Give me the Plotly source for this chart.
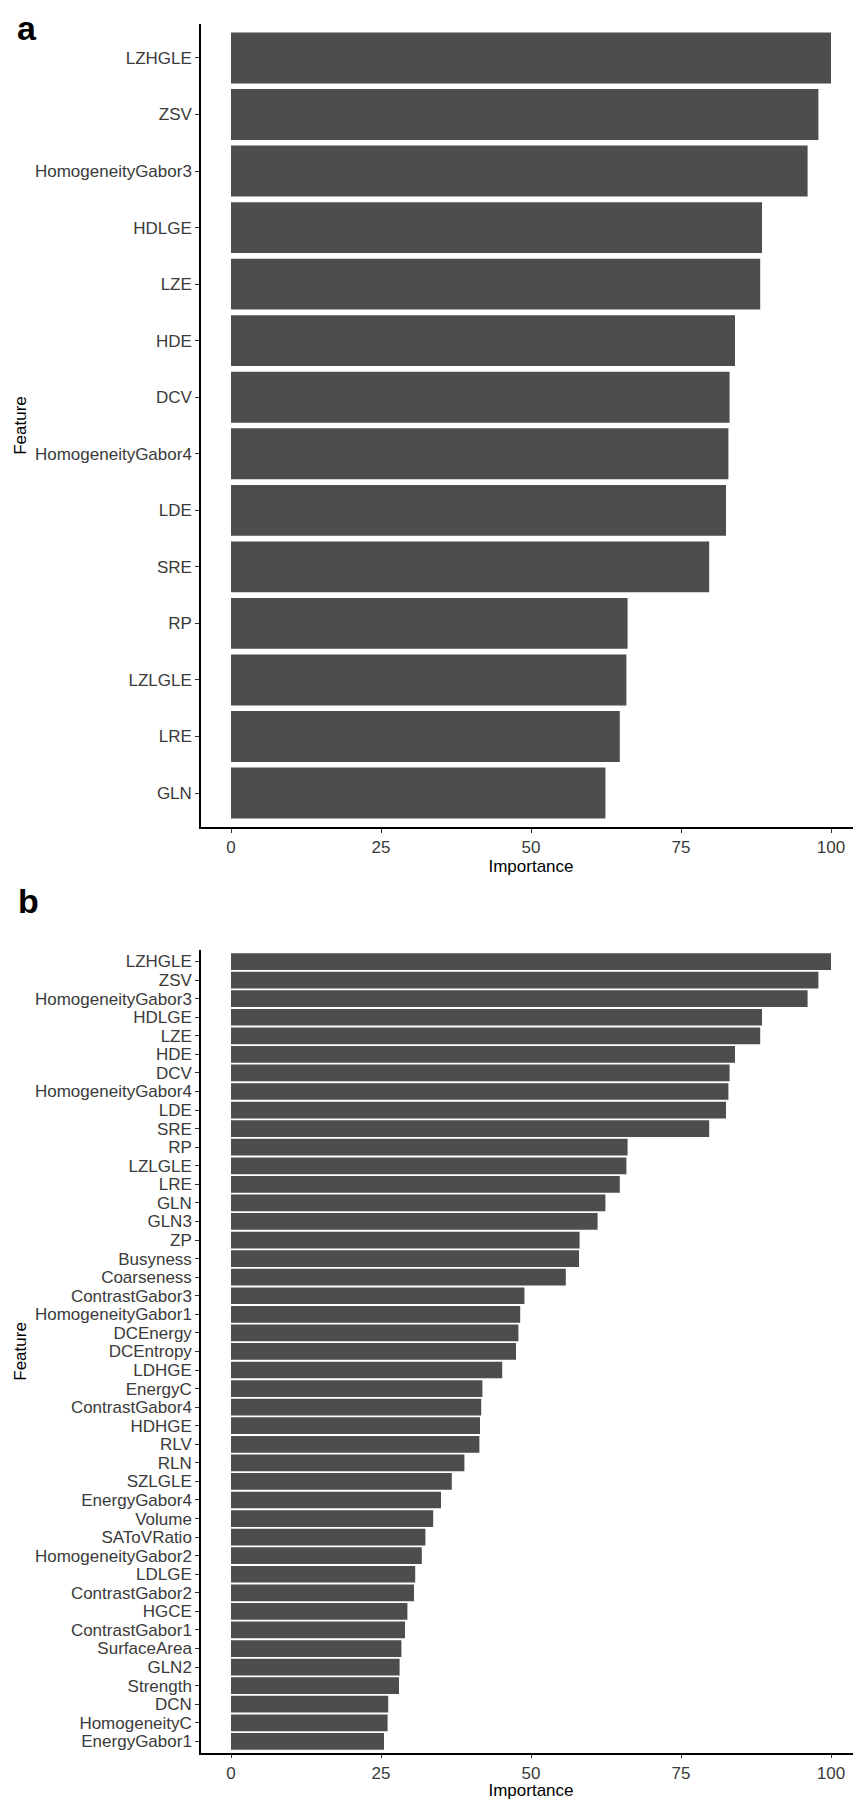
import plotly.graph_objects as go

# ---- data ----
features = [
    "LZHGLE", "ZSV", "HomogeneityGabor3", "HDLGE", "LZE", "HDE", "DCV",
    "HomogeneityGabor4", "LDE", "SRE", "RP", "LZLGLE", "LRE", "GLN",
    "GLN3", "ZP", "Busyness", "Coarseness", "ContrastGabor3",
    "HomogeneityGabor1", "DCEnergy", "DCEntropy", "LDHGE", "EnergyC",
    "ContrastGabor4", "HDHGE", "RLV", "RLN", "SZLGLE", "EnergyGabor4",
    "Volume", "SAToVRatio", "HomogeneityGabor2", "LDLGE", "ContrastGabor2",
    "HGCE", "ContrastGabor1", "SurfaceArea", "GLN2", "Strength", "DCN",
    "HomogeneityC", "EnergyGabor1",
]
importance = [
    100.0, 97.9, 96.1, 88.5, 88.2, 84.0, 83.1,
    82.9, 82.5, 79.7, 66.1, 65.9, 64.8, 62.4,
    61.1, 58.1, 58.0, 55.8, 48.9,
    48.2, 47.9, 47.5, 45.2, 41.9,
    41.7, 41.5, 41.4, 38.9, 36.8, 35.0,
    33.7, 32.4, 31.8, 30.7, 30.5,
    29.4, 29.0, 28.4, 28.1, 28.0, 26.2,
    26.1, 25.5,
]
top_n = 14
features_a = features[:top_n]
importance_a = importance[:top_n]
features_b = features
importance_b = importance

x_ticks = [0, 25, 50, 75, 100]
panel_labels = ["a", "b"]

# ---- style ----
# the page body has an 8px default margin, so the figure is 8px smaller
W, H = 853, 1792
FONT = "Liberation Sans, Arial, Helvetica, sans-serif"
BAR = "#4D4D4D"
TXT = "#3a3a3a"

fig = go.Figure()
fig.add_trace(go.Bar(x=importance_a, y=features_a, orientation="h",
                     marker=dict(color=BAR, line=dict(width=0)),
                     xaxis="x", yaxis="y", showlegend=False))
fig.add_trace(go.Bar(x=importance_b, y=features_b, orientation="h",
                     marker=dict(color=BAR, line=dict(width=0)),
                     xaxis="x2", yaxis="y2", showlegend=False))

xdom = [193 / W, 1.0]
ydom_a = [1 - 819 / H, 1 - 16 / H]
ydom_b = [1 - 1744.5 / H, 1 - 942.4 / H]


def xaxis(anchor):
    return dict(domain=xdom, range=[-5, 105], tickvals=x_ticks,
                showline=True, linecolor="black", linewidth=1.5,
                ticks="outside", ticklen=4, tickwidth=1, tickcolor="#333333",
                tickfont=dict(family=FONT, size=17, color=TXT),
                showgrid=False, zeroline=False, anchor=anchor,
                title=dict(text="Importance", font=dict(family=FONT, size=17, color="black"),
                           standoff=2))


def yaxis(anchor, dom, cats):
    n = len(cats)
    return dict(domain=dom, type="category", categoryorder="array", categoryarray=cats,
                tickmode="array", tickvals=cats, ticktext=cats,
                range=[n - 1 + 0.6, -0.6],
                showline=True, linecolor="black", linewidth=1.5,
                ticks="outside", ticklen=4, tickwidth=1, tickcolor="#333333",
                tickfont=dict(family=FONT, size=17, color=TXT),
                showgrid=False, zeroline=False, anchor=anchor,
                title=dict(text="Feature", font=dict(family=FONT, size=17, color="black"),
                           standoff=4))


fig.update_layout(
    width=W, height=H,
    margin=dict(l=0, r=0, t=0, b=0),
    paper_bgcolor="white", plot_bgcolor="white",
    bargap=0.1,
    showlegend=False,
    xaxis=xaxis("y"),
    yaxis=yaxis("x", ydom_a, features_a),
    xaxis2=xaxis("y2"),
    yaxis2=yaxis("x2", ydom_b, features_b),
    annotations=[
        dict(text="<b>%s</b>" % panel_labels[0], x=8 / W, y=1.0, xref="paper", yref="paper",
             xanchor="left", yanchor="top", showarrow=False, borderpad=0,
             font=dict(family=FONT, size=34, color="black")),
        dict(text="<b>%s</b>" % panel_labels[1], x=8 / W, y=1 - 893 / H, xref="paper", yref="paper",
             xanchor="left", yanchor="middle", showarrow=False,
             font=dict(family=FONT, size=34, color="black")),
    ],
)

fig.write_html("out.html")
